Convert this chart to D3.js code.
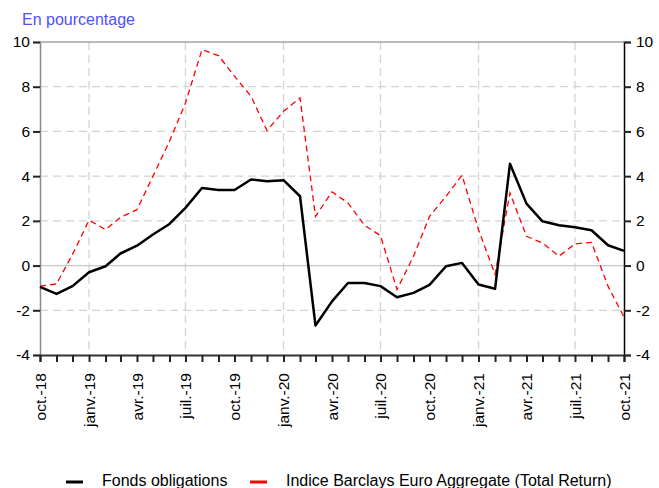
<!DOCTYPE html>
<html>
<head>
<meta charset="utf-8">
<script src="https://cdn.jsdelivr.net/npm/d3@7"></script>
<style>
  body { margin: 0; background: #fff; }
  svg { font-family: "Liberation Sans", Arial, sans-serif; }
</style>
</head>
<body>
<svg id="chart" width="659" height="488"></svg>
<script>
// monthly observations, oct. 2018 -> oct. 2021
const months = d3.range(37).map(i => new Date(2018, 9 + i, 1));

const fonds = [-0.95, -1.27, -0.92, -0.30, -0.03, 0.54, 0.89, 1.39, 1.86, 2.58,
  3.47, 3.38, 3.38, 3.85, 3.77, 3.82, 3.10, -2.68, -1.60, -0.78,
  -0.78, -0.92, -1.42, -1.22, -0.86, -0.03, 0.12, -0.85, -1.04, 4.55,
  2.77, 1.98, 1.80, 1.71, 1.58, 0.91, 0.66];

const indice = [-0.92, -0.82, 0.50, 2.03, 1.61, 2.16, 2.50, 4.00, 5.56, 7.27,
  9.66, 9.39, 8.47, 7.57, 6.04, 6.90, 7.50, 2.20, 3.30, 2.80,
  1.80, 1.34, -1.07, 0.42, 2.20, 3.10, 4.04, 1.60, -0.40, 3.25,
  1.31, 1.01, 0.42, 0.97, 1.04, -0.92, -2.30];

const yTicks = [-4, -2, 0, 2, 4, 6, 8, 10];
const moisFr = ["janv.", "févr.", "mars", "avr.", "mai", "juin", "juil.", "août", "sept.", "oct.", "nov.", "déc."];
const seriesNames = ["Fonds obligations", "Indice Barclays Euro Aggregate (Total Return)"];

const svg = d3.select("#chart");
const plotL = 40, plotR = 624, plotT = 42, plotB = 355;
const fontFam = "'Liberation Sans', Arial, sans-serif";

const x = d3.scaleTime().domain([months[0], months[36]]).range([plotL, plotR]);
const y = d3.scaleLinear().domain([-4, 10]).range([plotB, plotT]);

// title
svg.append("text")
    .attr("x", 22).attr("y", 25)
    .attr("fill", "#4f4fff")
    .attr("font-size", 16)
    .text("En pourcentage");

// horizontal grid
svg.append("g").selectAll("line")
    .data(yTicks.filter(v => v !== -4 && v !== 10 && v !== 0))
    .join("line")
    .attr("x1", plotL).attr("x2", plotR)
    .attr("y1", d => y(d)).attr("y2", d => y(d))
    .attr("stroke", "#d3d3d3").attr("stroke-width", 1.3)
    .attr("stroke-dasharray", "8,5");

// vertical grid every 6 months (janv. / juil.)
const gridMonths = months.filter(d => d.getMonth() === 0 || d.getMonth() === 6);
svg.append("g").selectAll("line")
    .data(gridMonths)
    .join("line")
    .attr("x1", d => x(d)).attr("x2", d => x(d))
    .attr("y1", plotT).attr("y2", plotB)
    .attr("stroke", "#d3d3d3").attr("stroke-width", 1.3)
    .attr("stroke-dasharray", "8,5");

// zero line and top border
svg.append("line")
    .attr("x1", plotL).attr("x2", plotR)
    .attr("y1", y(0)).attr("y2", y(0))
    .attr("stroke", "#c8c8c8").attr("stroke-width", 1.2);
svg.append("line")
    .attr("x1", plotL).attr("x2", plotR)
    .attr("y1", y(10)).attr("y2", y(10))
    .attr("stroke", "#777").attr("stroke-width", 1.2);

// left axis
const yLeft = svg.append("g")
    .attr("transform", `translate(${plotL},0)`)
    .call(d3.axisLeft(y).tickValues(yTicks).tickSize(7).tickPadding(3).tickFormat(d => String(d)));
yLeft.select(".domain").attr("stroke", "#888").attr("stroke-width", 1.5);
yLeft.selectAll(".tick line").attr("stroke", "#222").attr("stroke-width", 2);

// right axis
const yRight = svg.append("g")
    .attr("transform", `translate(${plotR},0)`)
    .call(d3.axisRight(y).tickValues(yTicks).tickSize(7).tickPadding(5).tickFormat(d => String(d)));
yRight.select(".domain").attr("stroke", "#000").attr("stroke-width", 1.5);
yRight.selectAll(".tick line").attr("stroke", "#222").attr("stroke-width", 2);

[yLeft, yRight].forEach(g => {
  g.selectAll(".tick text").attr("font-size", 15.5).attr("fill", "#000")
    .attr("font-family", fontFam);
});

// bottom axis: a tick every month, a label every 3 months
const xAxis = svg.append("g")
    .attr("transform", `translate(0,${plotB})`)
    .call(d3.axisBottom(x).tickValues(months).tickSize(7)
      .tickFormat(d => d.getMonth() % 3 === 0 ? moisFr[d.getMonth()] + "-" + String(d.getFullYear()).slice(2) : ""));
xAxis.select(".domain").attr("stroke", "#333").attr("stroke-width", 2);
xAxis.selectAll(".tick line").attr("stroke", "#222").attr("stroke-width", 2);
xAxis.selectAll(".tick text")
    .attr("font-size", 15.5).attr("fill", "#000")
    .attr("font-family", fontFam)
    .attr("text-anchor", "end")
    .attr("transform", "rotate(-90)")
    .attr("x", -18).attr("y", 0).attr("dy", "0.35em");

// series
const line = d3.line().x((d, i) => x(months[i])).y(d => y(d));

svg.append("path")
    .datum(indice)
    .attr("d", line)
    .attr("fill", "none")
    .attr("stroke", "#ff0000")
    .attr("stroke-width", 1.3)
    .attr("stroke-dasharray", "6,4");

svg.append("path")
    .datum(fonds)
    .attr("d", line)
    .attr("fill", "none")
    .attr("stroke", "#000")
    .attr("stroke-width", 2.5)
    .attr("stroke-linejoin", "round");

// legend
const legend = svg.append("g");
const legendItems = [
  {name: seriesNames[0], color: "#000", lx: 66, tx: 102},
  {name: seriesNames[1], color: "#ff0000", lx: 250, tx: 286}
];
legendItems.forEach(d => {
  legend.append("line")
      .attr("x1", d.lx).attr("x2", d.lx + 17)
      .attr("y1", 482).attr("y2", 482)
      .attr("stroke", d.color).attr("stroke-width", 3);
  legend.append("text")
      .attr("x", d.tx).attr("y", 486)
      .attr("font-size", 16)
      .attr("fill", "#000")
      .text(d.name);
});
</script>
</body>
</html>
